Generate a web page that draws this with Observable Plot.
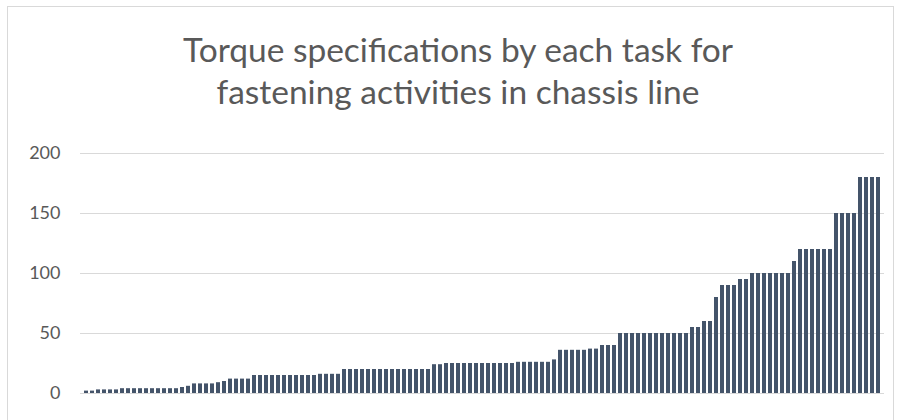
<!DOCTYPE html>
<html>
<head>
<meta charset="utf-8">
<script src="https://cdn.jsdelivr.net/npm/d3@7"></script>
<script src="https://cdn.jsdelivr.net/npm/@observablehq/plot@0.6"></script>
<style>
  html, body { margin: 0; padding: 0; background: #fff; }
  body { width: 900px; height: 420px; overflow: hidden; position: relative; font-family: Lato, "Open Sans", sans-serif; }
  #frame { position: absolute; left: 7px; top: 6px; width: 887px; height: 480px; border: 1px solid #d9d9d9; box-sizing: border-box; }
  #title { position: absolute; left: 8px; top: 28px; width: 900px; text-align: center; color: #595959; font-size: 33.5px; line-height: 42px; font-weight: 400; }
  #chart { position: absolute; left: 0; top: 130px; }
</style>
</head>
<body>
<div id="frame"></div>
<div id="title">Torque specifications by each task for<br>fastening activities in chassis line</div>
<div id="chart"></div>
<script>
// Torque (Nm) required by each fastening task, sorted ascending
const torque = [
  2, 2,
  3, 3, 3, 3,
  4, 4, 4, 4, 4, 4, 4, 4, 4, 4,
  5, 6,
  8, 8, 8, 8,
  9, 10,
  12, 12, 12, 12,
  15, 15, 15, 15, 15, 15, 15, 15, 15, 15, 15,
  16, 16, 16, 16,
  20, 20, 20, 20, 20, 20, 20, 20, 20, 20, 20, 20, 20, 20, 20,
  24, 24,
  25, 25, 25, 25, 25, 25, 25, 25, 25, 25, 25, 25,
  26, 26, 26, 26, 26, 26,
  28,
  36, 36, 36, 36, 36,
  37, 37,
  40, 40, 40,
  50, 50, 50, 50, 50, 50, 50, 50, 50, 50, 50, 50,
  55, 55,
  60, 60,
  80,
  90, 90, 90,
  95, 95,
  100, 100, 100, 100, 100, 100, 100,
  110,
  120, 120, 120, 120, 120, 120,
  150, 150, 150, 150,
  180, 180, 180, 180
];

// Task numbers along the x axis (one per torque value)
const tasks = torque.map((_, i) => i + 1);

// Y axis tick values
const yTicks = [0, 50, 100, 150, 200];

const data = tasks.map((task, i) => ({task, torque: torque[i]}));

const chart = Plot.plot({
  width: 900,
  height: 290,
  marginTop: 23,
  marginBottom: 27,
  marginLeft: 80,
  marginRight: 16,
  style: {fontFamily: "Lato, 'Open Sans', sans-serif", fontSize: "18px", color: "#595959", background: "transparent"},
  x: {type: "band", domain: tasks, padding: 0.4, axis: null},
  y: {domain: [0, 200], ticks: yTicks, tickSize: 0, tickPadding: 20, label: null},
  marks: [
    Plot.ruleY(yTicks, {stroke: "#d9d9d9", strokeWidth: 1}),
    Plot.barY(data, {x: "task", y: "torque", fill: "#44546a"})
  ]
});

document.getElementById("chart").appendChild(chart);
</script>
</body>
</html>
